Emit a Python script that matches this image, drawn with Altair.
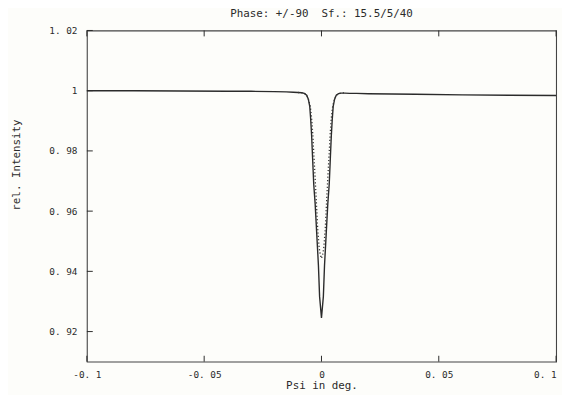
import altair as alt
import pandas as pd

# ---- data ----
x_solid = [-0.1, -0.08, -0.06, -0.04, -0.03, -0.02, -0.015, -0.012, -0.010, -0.0084,
           -0.0073, -0.0063, -0.0056, -0.0050, -0.0046, -0.0042, -0.0038, -0.0033,
           -0.0027, -0.0020, -0.0013, -0.0008, 0.0, 0.0008, 0.0013, 0.0020, 0.0027,
           0.0033, 0.0038, 0.0042, 0.0046, 0.0050, 0.0056, 0.0063, 0.0073, 0.0084,
           0.010, 0.012, 0.015, 0.02, 0.03, 0.04, 0.06, 0.08, 0.1]
y_solid = [1.0000, 1.0000, 0.9999, 0.9998, 0.9998, 0.9997, 0.9996, 0.9995, 0.9994, 0.9993,
           0.9991, 0.9985, 0.9972, 0.9948, 0.9905, 0.9851, 0.9779, 0.9689,
           0.9625, 0.9522, 0.9420, 0.9316, 0.9245, 0.9316, 0.9420, 0.9522, 0.9625,
           0.9689, 0.9779, 0.9851, 0.9905, 0.9948, 0.9972, 0.9985, 0.9990, 0.9992,
           0.9992, 0.9991, 0.9991, 0.9990, 0.9989, 0.9988, 0.9986, 0.9985, 0.9984]

x_dotted = [-0.010, -0.0084, -0.0073, -0.0063, -0.0056, -0.0048, -0.0042, -0.0037,
            -0.0033, -0.0028, -0.0022, -0.0016, -0.0010, -0.0005, 0.0, 0.0005, 0.0010,
            0.0016, 0.0022, 0.0028, 0.0033, 0.0037, 0.0042, 0.0048, 0.0056, 0.0063,
            0.0073, 0.0084, 0.010]
y_dotted = [0.9994, 0.9993, 0.9991, 0.9985, 0.9972, 0.9950, 0.9910, 0.9855,
            0.9795, 0.9725, 0.9635, 0.9540, 0.9480, 0.9455, 0.9443, 0.9455, 0.9480,
            0.9540, 0.9635, 0.9725, 0.9795, 0.9855, 0.9910, 0.9950, 0.9972, 0.9985,
            0.9990, 0.9992, 0.9993]

x_ticks = [-0.1, -0.05, 0, 0.05, 0.1]
y_ticks = [0.92, 0.94, 0.96, 0.98, 1.0, 1.02]
title_text = "Phase: +/-90 \u00a0Sf.: 15.5/5/40"
x_title = "Psi in deg."
y_title = "rel. Intensity"

# ---- styling ----
W, H = 476, 336
FONT = "DejaVu Sans Mono"
INK = "#2b2b2b"

df_s = pd.DataFrame({"x": x_solid, "y": y_solid})
df_d = pd.DataFrame({"x": x_dotted, "y": y_dotted})
df_xt = pd.DataFrame({"x": x_ticks})
df_yt = pd.DataFrame({"y": y_ticks})

xs = alt.Scale(domain=[-0.1, 0.1], nice=False, zero=False)
ys = alt.Scale(domain=[0.91, 1.02], nice=False, zero=False)

lab = "replace(replace(datum.label, '\u2212', '-'), '.', '. ')"

xaxis = alt.Axis(values=x_ticks, title=x_title, format=".2~f", labelExpr=lab,
                 ticks=False, domain=False, grid=False, labelPadding=8,
                 labelFlush=False, labelOverlap=False,
                 labelAlign=alt.expr("datum.value >= 0.1 ? 'right' : 'center'"),
                 titleY=27, titleBaseline="alphabetic")
yaxis = alt.Axis(values=y_ticks, title=y_title, format=".2~f", labelExpr=lab,
                 ticks=False, domain=False, grid=False, labelPadding=10,
                 labelFlush=False, labelOverlap=False, titleX=-71, titleY=136,
                 titleAngle=270, titleAlign="center", titleBaseline="middle")

solid = alt.Chart(df_s).mark_line(color=INK, strokeWidth=1.4).encode(
    x=alt.X("x:Q", scale=xs, axis=xaxis),
    y=alt.Y("y:Q", scale=ys, axis=yaxis),
)

dotted = alt.Chart(df_d).mark_line(color="#333333", strokeWidth=1.3,
                                   strokeDash=[1.2, 2.2]).encode(
    x=alt.X("x:Q", scale=xs, axis=xaxis),
    y=alt.Y("y:Q", scale=ys, axis=yaxis),
)

top_ticks = alt.Chart(df_xt).mark_rule(color=INK, strokeWidth=1).encode(
    x=alt.X("x:Q", scale=xs, axis=xaxis), y=alt.value(0), y2=alt.value(6))
bottom_ticks = alt.Chart(df_xt).mark_rule(color=INK, strokeWidth=1).encode(
    x=alt.X("x:Q", scale=xs, axis=xaxis), y=alt.value(H), y2=alt.value(H - 6))
left_ticks = alt.Chart(df_yt).mark_rule(color=INK, strokeWidth=1).encode(
    y=alt.Y("y:Q", scale=ys, axis=yaxis), x=alt.value(0), x2=alt.value(6))

chart = alt.layer(solid, dotted, top_ticks, bottom_ticks, left_ticks).properties(
    width=W, height=H,
    autosize="none",
    padding={"left": 80, "top": 20, "right": 6, "bottom": 31},
    background="#fdfdfa",
    title=alt.TitleParams(title_text, font=FONT, fontSize=11, fontWeight="normal",
                          color=INK, anchor="middle", frame="group", offset=7),
).configure_view(
    stroke="#444444", strokeWidth=1.1
).configure_axis(
    labelFont=FONT, labelFontSize=9.5, labelColor=INK,
    titleFont=FONT, titleFontSize=11, titleFontWeight="normal", titleColor=INK,
)

chart.save("out.html", embed_options={"renderer": "svg", "actions": False})
